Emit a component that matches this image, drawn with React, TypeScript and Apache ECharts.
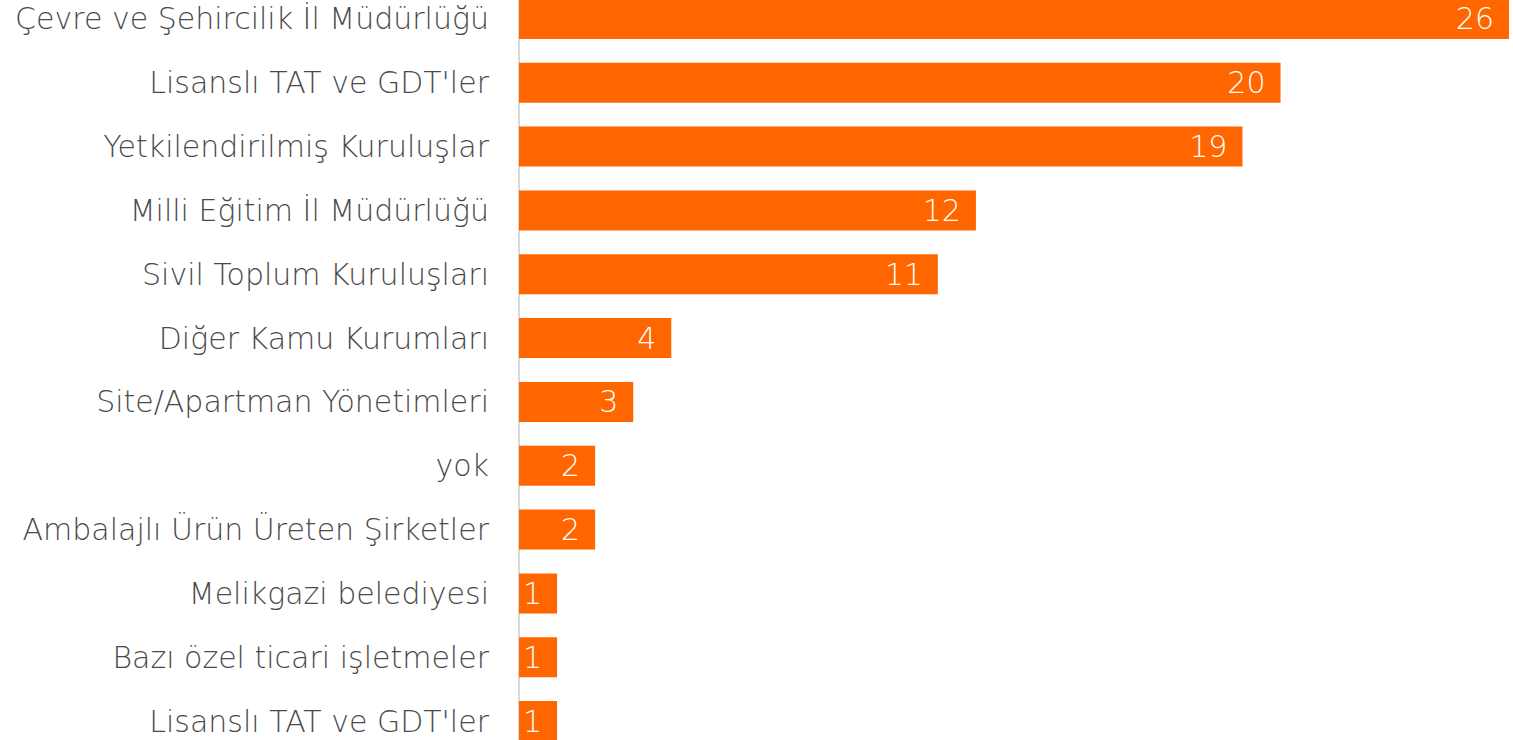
import React, { useEffect, useRef } from "react";
import * as echarts from "echarts";

const categories = [
  "Çevre ve Şehircilik İl Müdürlüğü",
  "Lisanslı TAT ve GDT'ler",
  "Yetkilendirilmiş Kuruluşlar",
  "Milli Eğitim İl Müdürlüğü",
  "Sivil Toplum Kuruluşları",
  "Diğer Kamu Kurumları",
  "Site/Apartman Yönetimleri",
  "yok",
  "Ambalajlı Ürün Üreten Şirketler",
  "Melikgazi belediyesi",
  "Bazı özel ticari işletmeler",
  "Lisanslı TAT ve GDT'ler ",
];
const values = [26, 20, 19, 12, 11, 4, 3, 2, 2, 1, 1, 1];

export default function App() {
  const ref = useRef<HTMLDivElement>(null);
  useEffect(() => {
    if (!ref.current) return;
    const chart = echarts.init(ref.current, undefined, { renderer: "svg" });
    chart.setOption({
      animation: false,
      grid: { left: 519, right: 4, top: 0, bottom: 0 },
      xAxis: { type: "value", min: 0, max: 26, show: false },
      yAxis: {
        type: "category",
        data: categories,
        inverse: true,
        axisTick: { show: false },
        axisLine: { show: true, lineStyle: { color: "#d9d9d9", width: 2 } },
        axisLabel: {
          color: "#4a4a4a",
          fontSize: 30,
          fontWeight: 200,
          fontFamily: "DejaVu Sans",
          margin: 30,
          formatter: (v: string) => v.trim(),
        },
      },
      series: [
        {
          type: "bar",
          data: values,
          barWidth: 40,
          itemStyle: { color: "#FF6600" },
          label: {
            show: true,
            position: "insideRight",
            distance: 15,
            color: "#ffffff",
            fontSize: 30,
            fontWeight: 200,
            fontFamily: "DejaVu Sans",
          },
        },
      ],
    });
    return () => chart.dispose();
  }, []);
  return (
    <div
      ref={ref}
      style={{ position: "fixed", left: 0, top: -13, width: 1513, height: 766, background: "#fff" }}
    />
  );
}
